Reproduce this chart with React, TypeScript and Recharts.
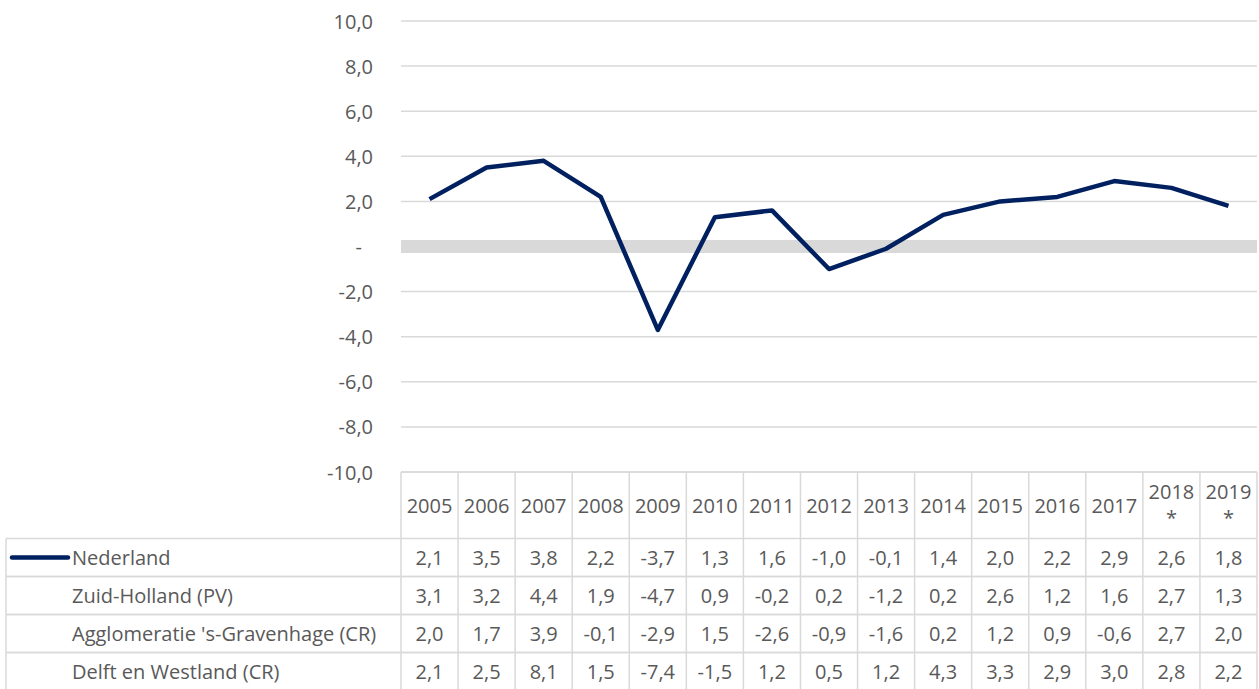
import React from 'react'
import { LineChart, Line, XAxis, YAxis, CartesianGrid, ReferenceLine } from 'recharts'

// years along the category axis; the last two are forecasts (marked with *)
const years = ['2005', '2006', '2007', '2008', '2009', '2010', '2011', '2012', '2013', '2014', '2015', '2016', '2017', '2018 *', '2019 *']

const seriesNames = ['Nederland', 'Zuid-Holland (PV)', "Agglomeratie 's-Gravenhage (CR)", 'Delft en Westland (CR)']

const nederland = [2.1, 3.5, 3.8, 2.2, -3.7, 1.3, 1.6, -1.0, -0.1, 1.4, 2.0, 2.2, 2.9, 2.6, 1.8]
const zuidHolland = [3.1, 3.2, 4.4, 1.9, -4.7, 0.9, -0.2, 0.2, -1.2, 0.2, 2.6, 1.2, 1.6, 2.7, 1.3]
const agglomeratie = [2.0, 1.7, 3.9, -0.1, -2.9, 1.5, -2.6, -0.9, -1.6, 0.2, 1.2, 0.9, -0.6, 2.7, 2.0]
const delftWestland = [2.1, 2.5, 8.1, 1.5, -7.4, -1.5, 1.2, 0.5, 1.2, 4.3, 3.3, 2.9, 3.0, 2.8, 2.2]

const yTicks = [-10, -8, -6, -4, -2, 0, 2, 4, 6, 8, 10]

const tableRows = [nederland, zuidHolland, agglomeratie, delftWestland]

const data = years.map((year, i) => ({
    idx: i,
    year,
    nederland: nederland[i],
}))

// layout
const W = 1259
const H = 689
const PLOT_LEFT = 401
const PLOT_RIGHT = 1257
const PLOT_TOP = 21
const PLOT_BOTTOM = 472
const COL_W = (PLOT_RIGHT - PLOT_LEFT) / years.length
const HEADER_BOTTOM = 538.5
const ROW_H = 38
const TABLE_LEFT = 6

const TEXT = '#595959'
const BORDER = '#d9d9d9'
const NAVY = '#002060'
const FONT = '"Open Sans", sans-serif'
const FS = 20

const fmt = (v: number) => v.toFixed(1).replace('.', ',')

function YTick({ x, y, payload }: any) {
    const zero = payload.value === 0
    return (
        <text
            x={zero ? x - 11 : x}
            y={y}
            textAnchor="end"
            dominantBaseline="central"
            fill={TEXT}
            fontSize={FS}
            fontFamily={FONT}
        >
            {zero ? '-' : fmt(payload.value)}
        </text>
    )
}

function TableColumn({ x, payload }: any) {
    const i = payload.value as number
    const left = x - COL_W / 2
    const right = x + COL_W / 2
    const bottom = HEADER_BOTTOM + ROW_H * tableRows.length
    const label = years[i]
    const [main, star] = label.split(' ')
    return (
        <g fontFamily={FONT} fontSize={FS} fill={TEXT}>
            {i === 0 && (
                <g>
                    {/* series label column */}
                    <line x1={left} y1={PLOT_BOTTOM} x2={left} y2={bottom} stroke={BORDER} strokeWidth={1.5} />
                    <line x1={TABLE_LEFT} y1={HEADER_BOTTOM} x2={TABLE_LEFT} y2={bottom} stroke={BORDER} strokeWidth={1.5} />
                    {seriesNames.map((name, r) => {
                        const top = HEADER_BOTTOM + r * ROW_H
                        return (
                            <g key={name}>
                                <line x1={TABLE_LEFT} y1={top} x2={left} y2={top} stroke={BORDER} strokeWidth={1.5} />
                                <line x1={TABLE_LEFT} y1={top + ROW_H} x2={left} y2={top + ROW_H} stroke={BORDER} strokeWidth={1.5} />
                                <text x={72} y={top + ROW_H / 2} dominantBaseline="central" stroke="none">
                                    {name}
                                </text>
                            </g>
                        )
                    })}
                    <line x1={12} y1={HEADER_BOTTOM + ROW_H / 2} x2={68} y2={HEADER_BOTTOM + ROW_H / 2} stroke={NAVY} strokeWidth={4.5} strokeLinecap="round" />
                </g>
            )}
            <line x1={right} y1={PLOT_BOTTOM} x2={right} y2={bottom} stroke={BORDER} strokeWidth={1.5} />
            <line x1={left} y1={PLOT_BOTTOM} x2={right} y2={PLOT_BOTTOM} stroke={BORDER} strokeWidth={1.5} />
            {star ? (
                <g>
                    <text x={x} y={491} textAnchor="middle" dominantBaseline="central" stroke="none">{main}</text>
                    <text x={x} y={517} textAnchor="middle" dominantBaseline="central" stroke="none">*</text>
                </g>
            ) : (
                <text x={x} y={(PLOT_BOTTOM + HEADER_BOTTOM) / 2} textAnchor="middle" dominantBaseline="central" stroke="none">
                    {main}
                </text>
            )}
            {tableRows.map((row, r) => {
                const top = HEADER_BOTTOM + r * ROW_H
                return (
                    <g key={r}>
                        <line x1={left} y1={top} x2={right} y2={top} stroke={BORDER} strokeWidth={1.5} />
                        <line x1={left} y1={top + ROW_H} x2={right} y2={top + ROW_H} stroke={BORDER} strokeWidth={1.5} />
                        <text x={x} y={top + ROW_H / 2} textAnchor="middle" dominantBaseline="central" stroke="none">
                            {fmt(row[i])}
                        </text>
                    </g>
                )
            })}
        </g>
    )
}

export default function App() {
    return (
        <div style={{ position: 'absolute', left: 0, top: 0, width: W, height: H, background: '#fff' }}>
            <LineChart
                width={W}
                height={H}
                data={data}
                margin={{ top: PLOT_TOP, right: W - PLOT_RIGHT, bottom: 0, left: 0 }}
            >
                <CartesianGrid horizontal vertical={false} stroke={BORDER} strokeWidth={1.5} />
                <XAxis
                    type="number"
                    dataKey="idx"
                    domain={[-0.5, years.length - 0.5]}
                    ticks={years.map((_, i) => i)}
                    interval={0}
                    height={H - PLOT_BOTTOM}
                    axisLine={false}
                    tickLine={false}
                    tickSize={0}
                    tickMargin={0}
                    tick={<TableColumn />}
                />
                <YAxis
                    domain={[-10, 10]}
                    ticks={yTicks}
                    interval={0}
                    width={PLOT_LEFT}
                    axisLine={false}
                    tickLine={false}
                    tickSize={0}
                    tickMargin={28}
                    tick={<YTick />}
                />
                <ReferenceLine y={0} stroke={BORDER} strokeWidth={13} />
                <Line
                    type="linear"
                    dataKey="nederland"
                    stroke={NAVY}
                    strokeWidth={4.5}
                    strokeLinejoin="round"
                    dot={false}
                    activeDot={false}
                    isAnimationActive={false}
                />
            </LineChart>
        </div>
    )
}
